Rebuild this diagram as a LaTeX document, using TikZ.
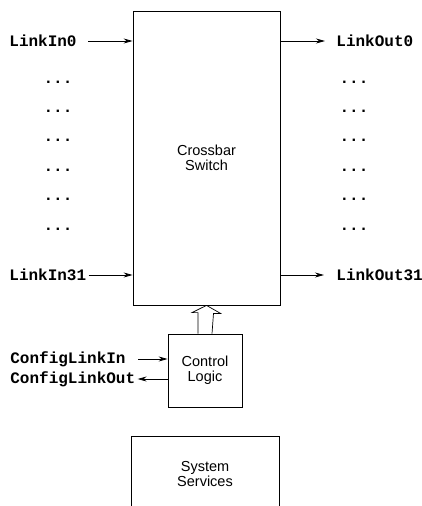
\documentclass[tikz,border=0pt]{standalone}
\usepackage{fontspec}
\usepackage{tikz}
\usetikzlibrary{arrows.meta,calc,positioning}
\newfontfamily\sigfont{Liberation Mono}
\newfontfamily\boxfont{Liberation Sans}

\begin{document}
\begin{tikzpicture}[x=1pt,y=-1pt,>={Stealth[length=9pt,width=5pt]},line width=0.8pt,
  blk/.style={draw,rectangle,inner sep=0pt,align=center,font=\boxfont\fontsize{14.5}{15}\selectfont},
  sig/.style={inner sep=2pt,font=\sigfont\bfseries\fontsize{16}{18}\selectfont}]
\useasboundingbox (0,0) rectangle (422,506);
% Crossbar and control logic
\node[blk,minimum width=147pt,minimum height=294pt] (xbar) at (206.5,158) {Crossbar\\Switch};
\node[blk,minimum width=74pt,minimum height=73pt] (ctl) at (205,370.5) {Control\\Logic};
% System services (open at the bottom)
\node[font=\boxfont\fontsize{14.5}{15}\selectfont,align=center] (sys) at (205,474) {System\\Services};
\draw (131,510) -- (131,436) -- (279,436) -- (279,510);
% links in
\node[sig,anchor=west] (lin0) at (7,41) {LinkIn0};
\node[sig,anchor=west] (lin31) at (7,275) {LinkIn31};
\draw[->] ([xshift=9pt]lin0.east) -- (lin0 -| xbar.west);
\draw[->] (lin31.east) -- (lin31 -| xbar.west);
% links out
\node[sig,anchor=west] (lout0) at (334,41) {LinkOut0};
\node[sig,anchor=west] (lout31) at (334,275) {LinkOut31};
\draw[->,shorten >=9pt] (xbar.east |- lout0) -- (lout0.west);
\draw[->,shorten >=10pt] (xbar.east |- lout31) -- (lout31.west);
% dots
\foreach \i in {0,...,5}{
  \node[sig] (dl\i) at (58,{82+29.4*\i}) {...};
  \node[sig] (dr\i) at (354,{82+29.4*\i}) {...};
}
% config links
\node[sig,anchor=west] (cin) at (8,359) {ConfigLinkIn};
\node[sig,anchor=west] (cout) at (8,379) {ConfigLinkOut};
\draw[->] ([xshift=10pt]cin.east) -- (cin -| ctl.west);
\draw[->] (cout -| ctl.west) -- (cout.east);
% hollow arrow: control -> crossbar
\draw[line width=0.7pt] ($(ctl.north)+(-7,0)$) -- ++(0,-21) -- ++(-6,0) -- (xbar.south)
  -- ($(xbar.south)+(14,8)$) -- ++(-7,0) -- ($(ctl.north)+(7,0)$);
\end{tikzpicture}
\end{document}
